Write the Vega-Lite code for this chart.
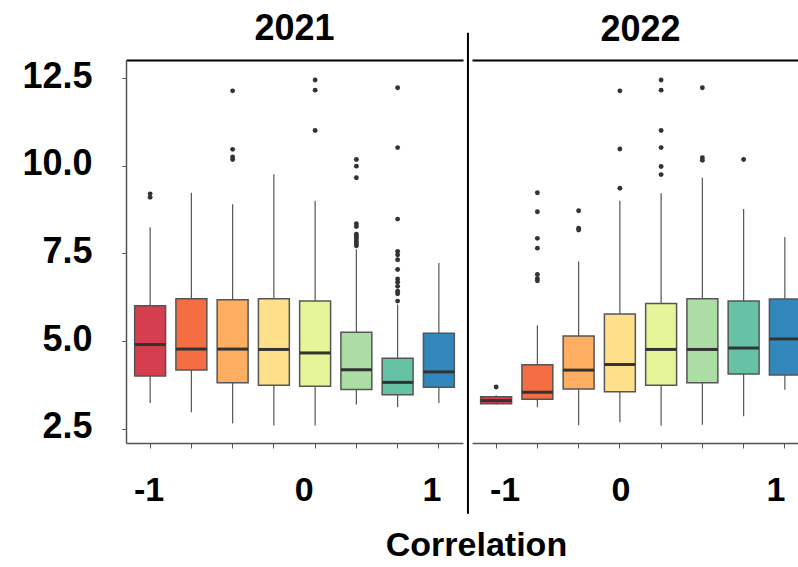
{
  "$schema": "https://vega.github.io/schema/vega-lite/v6.json",
  "padding": {"left": 21, "top": 10, "right": 5, "bottom": 5},
  "background": "white",
  "config": {
    "view": {"stroke": null},
    "font": "Liberation Sans",
    "axis": {"grid": false}
  },
  "bounds": "flush",
  "spacing": 9,
  "title": {"text": "Correlation", "orient": "bottom", "anchor": "middle", "fontSize": 34, "fontWeight": "bold", "font": "Liberation Sans", "color": "black", "offset": 14, "dx": 61},
  "datasets": {
    "boxes": [
      {"year": 2021, "cat": "c1", "lo": 3.23, "q1": 4.0, "med": 4.9, "q3": 6.01, "hi": 8.25},
      {"year": 2021, "cat": "c2", "lo": 2.97, "q1": 4.17, "med": 4.77, "q3": 6.21, "hi": 9.23},
      {"year": 2021, "cat": "c3", "lo": 2.65, "q1": 3.81, "med": 4.77, "q3": 6.18, "hi": 8.9},
      {"year": 2021, "cat": "c4", "lo": 2.59, "q1": 3.74, "med": 4.76, "q3": 6.21, "hi": 9.76},
      {"year": 2021, "cat": "c5", "lo": 2.59, "q1": 3.71, "med": 4.66, "q3": 6.14, "hi": 9.0},
      {"year": 2021, "cat": "c6", "lo": 3.19, "q1": 3.62, "med": 4.18, "q3": 5.25, "hi": 7.62},
      {"year": 2021, "cat": "c7", "lo": 3.11, "q1": 3.47, "med": 3.82, "q3": 4.51, "hi": 6.04},
      {"year": 2021, "cat": "c8", "lo": 3.23, "q1": 3.68, "med": 4.12, "q3": 5.22, "hi": 7.23},
      {"year": 2022, "cat": "c1", "lo": 3.19, "q1": 3.21, "med": 3.3, "q3": 3.41, "hi": 3.45},
      {"year": 2022, "cat": "c2", "lo": 3.11, "q1": 3.34, "med": 3.54, "q3": 4.32, "hi": 5.45},
      {"year": 2022, "cat": "c3", "lo": 2.6, "q1": 3.63, "med": 4.17, "q3": 5.14, "hi": 7.27},
      {"year": 2022, "cat": "c4", "lo": 2.68, "q1": 3.55, "med": 4.33, "q3": 5.77, "hi": 9.0},
      {"year": 2022, "cat": "c5", "lo": 2.59, "q1": 3.74, "med": 4.76, "q3": 6.07, "hi": 9.22},
      {"year": 2022, "cat": "c6", "lo": 2.61, "q1": 3.81, "med": 4.76, "q3": 6.21, "hi": 9.66},
      {"year": 2022, "cat": "c7", "lo": 2.85, "q1": 4.06, "med": 4.8, "q3": 6.14, "hi": 8.77},
      {"year": 2022, "cat": "c8", "lo": 3.61, "q1": 4.03, "med": 5.06, "q3": 6.2, "hi": 7.97}
    ],
    "outliers": [
      {"year": 2021, "cat": "c1", "value": 9.2},
      {"year": 2021, "cat": "c1", "value": 9.1},
      {"year": 2021, "cat": "c3", "value": 12.14},
      {"year": 2021, "cat": "c3", "value": 10.47},
      {"year": 2021, "cat": "c3", "value": 10.25},
      {"year": 2021, "cat": "c3", "value": 10.18},
      {"year": 2021, "cat": "c5", "value": 12.45},
      {"year": 2021, "cat": "c5", "value": 12.16},
      {"year": 2021, "cat": "c5", "value": 11.01},
      {"year": 2021, "cat": "c6", "value": 10.18},
      {"year": 2021, "cat": "c6", "value": 9.99},
      {"year": 2021, "cat": "c6", "value": 9.66},
      {"year": 2021, "cat": "c6", "value": 8.35},
      {"year": 2021, "cat": "c6", "value": 8.27},
      {"year": 2021, "cat": "c6", "value": 8.05},
      {"year": 2021, "cat": "c6", "value": 7.98},
      {"year": 2021, "cat": "c6", "value": 7.92},
      {"year": 2021, "cat": "c6", "value": 7.85},
      {"year": 2021, "cat": "c6", "value": 7.78},
      {"year": 2021, "cat": "c6", "value": 7.72},
      {"year": 2021, "cat": "c7", "value": 12.23},
      {"year": 2021, "cat": "c7", "value": 10.52},
      {"year": 2021, "cat": "c7", "value": 8.48},
      {"year": 2021, "cat": "c7", "value": 7.56},
      {"year": 2021, "cat": "c7", "value": 7.46},
      {"year": 2021, "cat": "c7", "value": 7.32},
      {"year": 2021, "cat": "c7", "value": 7.04},
      {"year": 2021, "cat": "c7", "value": 6.77},
      {"year": 2021, "cat": "c7", "value": 6.68},
      {"year": 2021, "cat": "c7", "value": 6.56},
      {"year": 2021, "cat": "c7", "value": 6.42},
      {"year": 2021, "cat": "c7", "value": 6.35},
      {"year": 2021, "cat": "c7", "value": 6.14},
      {"year": 2022, "cat": "c1", "value": 3.69},
      {"year": 2022, "cat": "c2", "value": 9.23},
      {"year": 2022, "cat": "c2", "value": 8.69},
      {"year": 2022, "cat": "c2", "value": 7.93},
      {"year": 2022, "cat": "c2", "value": 7.65},
      {"year": 2022, "cat": "c2", "value": 6.9},
      {"year": 2022, "cat": "c2", "value": 6.78},
      {"year": 2022, "cat": "c2", "value": 6.72},
      {"year": 2022, "cat": "c3", "value": 8.72},
      {"year": 2022, "cat": "c3", "value": 8.22},
      {"year": 2022, "cat": "c3", "value": 8.17},
      {"year": 2022, "cat": "c4", "value": 12.14},
      {"year": 2022, "cat": "c4", "value": 10.48},
      {"year": 2022, "cat": "c4", "value": 9.36},
      {"year": 2022, "cat": "c5", "value": 12.45},
      {"year": 2022, "cat": "c5", "value": 12.16},
      {"year": 2022, "cat": "c5", "value": 11.01},
      {"year": 2022, "cat": "c5", "value": 10.52},
      {"year": 2022, "cat": "c5", "value": 9.98},
      {"year": 2022, "cat": "c5", "value": 9.75},
      {"year": 2022, "cat": "c6", "value": 12.23},
      {"year": 2022, "cat": "c6", "value": 10.23},
      {"year": 2022, "cat": "c6", "value": 10.16},
      {"year": 2022, "cat": "c7", "value": 10.18}
    ]
  },
  "hconcat": [
    {
      "width": 337,
      "height": 383,
      "title": {"text": "2021", "fontSize": 36, "fontWeight": "bold", "anchor": "middle", "color": "black", "offset": 10.5},
      "resolve": {"axis": {"x": "independent", "y": "independent"}},
      "layer": [
        {
          "data": {"name": "boxes"},
          "transform": [{"filter": "datum.year == 2021"}],
          "mark": {"type": "rule", "color": "#555555", "strokeWidth": 1.2},
          "encoding": {
            "x": {"field": "cat", "type": "nominal", "sort": ["c1","c2","c3","c4","c5","c6","c7","c8"],
              "scale": {"domain": ["c1","c2","c3","c4","c5","c6","c7","c8"], "paddingInner": 0.25, "paddingOuter": 0.21},
              "axis": {"orient": "bottom", "title": null, "labelAngle": 0, "domainColor": "#555555", "domainWidth": 1.5, "tickColor": "#555555", "tickSize": 5, "tickWidth": 1,
                "labelFontSize": 34, "labelFontWeight": "bold", "labelColor": "black", "labelPadding": 25, "labelFont": "Liberation Sans",
                "labelExpr": "datum.value == 'c1' ? '-1' : datum.value == 'c5' ? '0' : datum.value == 'c8' ? '1' : ''",
                "labelOffset": {"condition": [{"test": "datum.value == 'c5'", "value": -11}, {"test": "datum.value == 'c8'", "value": -7}], "value": -1}}},
            "y": {"field": "lo", "type": "quantitative",
              "scale": {"domain": [2.09, 13.02], "nice": false, "zero": false},
              "axis": {"title": null, "values": [2.5, 5, 7.5, 10, 12.5], "format": ".1f", "domainColor": "#555555", "domainWidth": 1.5, "tickColor": "#555555", "tickSize": 4,
                "labelFontSize": 36, "labelFontWeight": "bold", "labelColor": "black", "labelPadding": 30, "labelFont": "Liberation Sans", "labelOffset": -2}},
            "y2": {"field": "hi"}
          }
        },
        {
          "data": {"name": "boxes"},
          "transform": [{"filter": "datum.year == 2021"}],
          "mark": {"type": "bar", "stroke": "#555555", "strokeWidth": 1.5, "opacity": 1},
          "encoding": {
            "x": {"field": "cat", "type": "nominal", "axis": {"orient": "top", "title": null, "labels": false, "ticks": false, "domainColor": "black", "domainWidth": 2}},
            "y": {"field": "q1", "type": "quantitative", "axis": null},
            "y2": {"field": "q3"},
            "color": {"field": "cat", "type": "nominal", "legend": null,
              "scale": {"domain": ["c1","c2","c3","c4","c5","c6","c7","c8"], "range": ["#D53E4F","#F46D43","#FDAE61","#FEE08B","#E6F598","#ABDDA4","#66C2A5","#3288BD"]}}
          }
        },
        {
          "data": {"name": "boxes"},
          "transform": [{"filter": "datum.year == 2021"}],
          "mark": {"type": "tick", "color": "#333333", "thickness": 3, "size": 31, "opacity": 1},
          "encoding": {
            "x": {"field": "cat", "type": "nominal", "axis": null},
            "y": {"field": "med", "type": "quantitative", "axis": null}
          }
        },
        {
          "data": {"name": "outliers"},
          "transform": [{"filter": "datum.year == 2021"}],
          "mark": {"type": "circle", "color": "#333333", "size": 24, "opacity": 1},
          "encoding": {
            "x": {"field": "cat", "type": "nominal", "axis": null},
            "y": {"field": "value", "type": "quantitative", "axis": null}
          }
        }
      ]
    },
    {
      "width": 337,
      "height": 383,
      "title": {"text": "2022", "fontSize": 36, "fontWeight": "bold", "anchor": "middle", "color": "black", "offset": -17},
      "resolve": {"axis": {"x": "independent", "y": "independent"}},
      "layer": [
        {
          "data": {"name": "boxes"},
          "transform": [{"filter": "datum.year == 2022"}],
          "mark": {"type": "rule", "color": "#555555", "strokeWidth": 1.2},
          "encoding": {
            "x": {"field": "cat", "type": "nominal", "sort": ["c1","c2","c3","c4","c5","c6","c7","c8"],
              "scale": {"domain": ["c1","c2","c3","c4","c5","c6","c7","c8"], "paddingInner": 0.25, "paddingOuter": 0.21},
              "axis": {"orient": "bottom", "title": null, "labelAngle": 0, "domainColor": "#555555", "domainWidth": 1.5, "tickColor": "#555555", "tickSize": 5, "tickWidth": 1,
                "labelFontSize": 34, "labelFontWeight": "bold", "labelColor": "black", "labelPadding": 25, "labelFont": "Liberation Sans",
                "labelExpr": "datum.value == 'c1' ? '-1' : datum.value == 'c4' ? '0' : datum.value == 'c8' ? '1' : ''",
                "labelOffset": {"condition": [{"test": "datum.value == 'c1'", "value": 9}, {"test": "datum.value == 'c8'", "value": -9}], "value": 1}}},
            "y": {"field": "lo", "type": "quantitative",
              "scale": {"domain": [2.09, 13.02], "nice": false, "zero": false},
              "axis": null},
            "y2": {"field": "hi"}
          }
        },
        {
          "data": {"name": "boxes"},
          "transform": [{"filter": "datum.year == 2022"}],
          "mark": {"type": "bar", "stroke": "#555555", "strokeWidth": 1.5, "opacity": 1},
          "encoding": {
            "x": {"field": "cat", "type": "nominal", "axis": {"orient": "top", "title": null, "labels": false, "ticks": false, "domainColor": "black", "domainWidth": 2}},
            "y": {"field": "q1", "type": "quantitative", "axis": null},
            "y2": {"field": "q3"},
            "color": {"field": "cat", "type": "nominal", "legend": null,
              "scale": {"domain": ["c1","c2","c3","c4","c5","c6","c7","c8"], "range": ["#D53E4F","#F46D43","#FDAE61","#FEE08B","#E6F598","#ABDDA4","#66C2A5","#3288BD"]}}
          }
        },
        {
          "data": {"name": "boxes"},
          "transform": [{"filter": "datum.year == 2022"}],
          "mark": {"type": "tick", "color": "#333333", "thickness": 3, "size": 31, "opacity": 1},
          "encoding": {
            "x": {"field": "cat", "type": "nominal", "axis": null},
            "y": {"field": "med", "type": "quantitative", "axis": null}
          }
        },
        {
          "data": {"name": "outliers"},
          "transform": [{"filter": "datum.year == 2022"}],
          "mark": {"type": "circle", "color": "#333333", "size": 24, "opacity": 1},
          "encoding": {
            "x": {"field": "cat", "type": "nominal", "axis": null},
            "y": {"field": "value", "type": "quantitative", "axis": null}
          }
        },
        {
          "data": {"values": [{}]},
          "mark": {"type": "rule", "color": "black", "strokeWidth": 2, "xOffset": -12.7},
          "encoding": {
            "x": {"datum": "c1", "type": "nominal", "bandPosition": 0, "axis": null},
            "y": {"datum": 13.8, "type": "quantitative", "axis": null},
            "y2": {"datum": 0.07}
          }
        }
      ]
    }
  ]
}
